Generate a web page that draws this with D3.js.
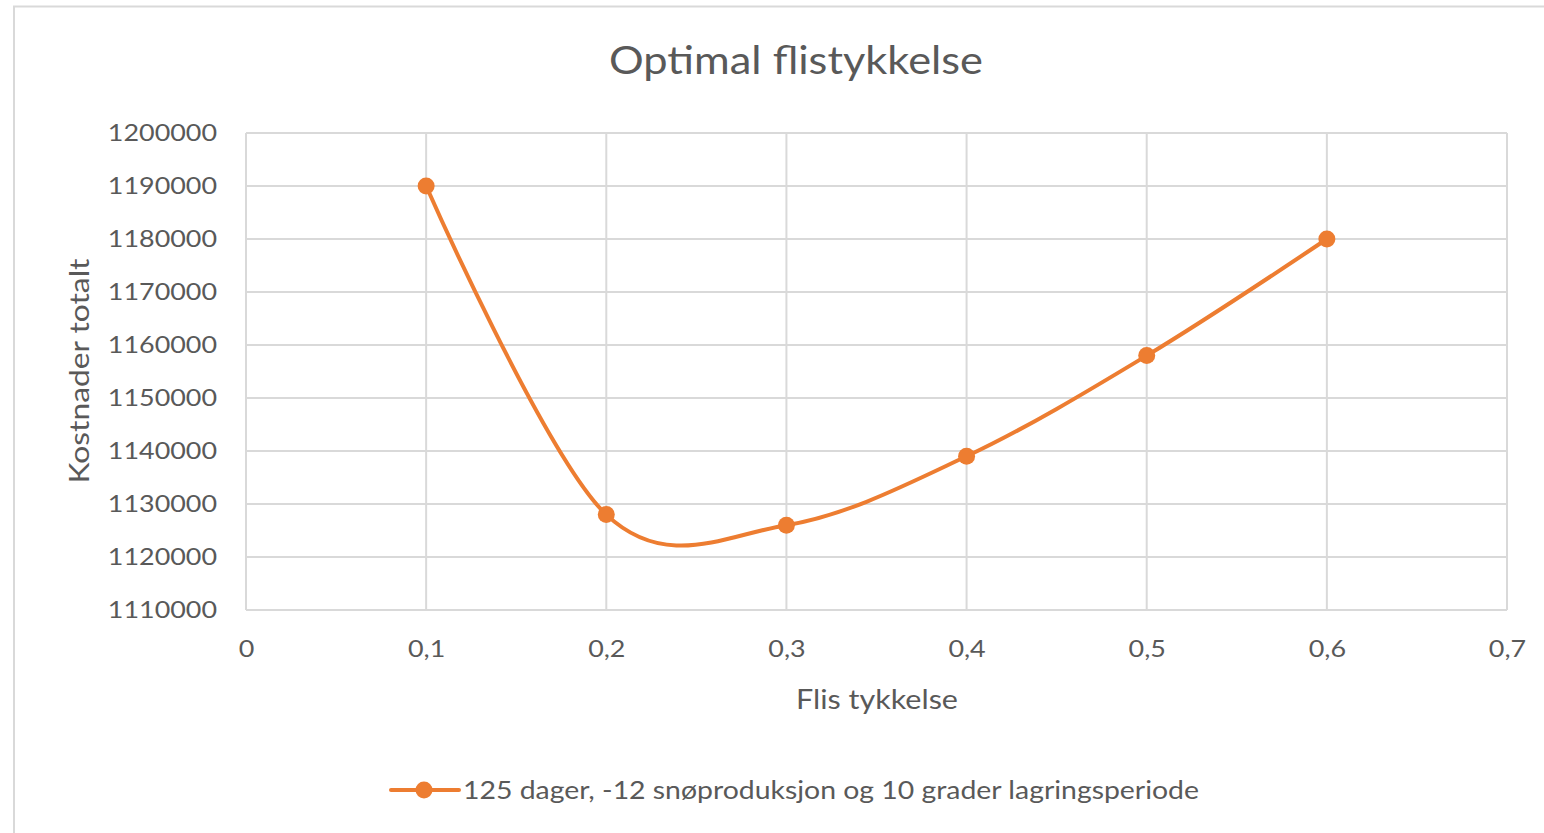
<!DOCTYPE html>
<html><head><meta charset="utf-8">
<script src="https://cdn.jsdelivr.net/npm/d3@7"></script>
<style>
html,body{margin:0;padding:0;background:#fff;}
text{font-family:Lato,"Open Sans",sans-serif;fill:#595959;}
</style></head>
<body>
<svg id="chart" width="1544" height="833"></svg>
<script>
const xValues = [0.1, 0.2, 0.3, 0.4, 0.5, 0.6];
const costValues = [1190000, 1128000, 1126000, 1139000, 1158000, 1180000];
const xTicks = [0, 0.1, 0.2, 0.3, 0.4, 0.5, 0.6, 0.7];
const yTicks = [1110000, 1120000, 1130000, 1140000, 1150000, 1160000, 1170000, 1180000, 1190000, 1200000];
const titleText = "Optimal flistykkelse";
const xTitle = "Flis tykkelse";
const yTitle = "Kostnader totalt";
const seriesName = "125 dager, -12 snøproduksjon og 10 grader lagringsperiode";

(function(){
const svg = d3.select("#chart");
const color = "#ED7D31";
const grid = "#d9d9d9";
const pL = 246, pR = 1507, pT = 133, pB = 610;
const stretch = 1.12;
function widen(sel){
  sel.each(function(){
    const w = this.getComputedTextLength();
    d3.select(this).attr("textLength", w*stretch).attr("lengthAdjust","spacingAndGlyphs");
  });
}

svg.append("path").attr("d","M14,833 V6.5 H1544").attr("fill","none").attr("stroke","#d9d9d9").attr("stroke-width",2);

const x = d3.scaleLinear().domain([0,0.7]).range([pL,pR]);
const y = d3.scaleLinear().domain([1110000,1200000]).range([pB,pT]);

svg.append("g").selectAll("line").data(yTicks).join("line")
  .attr("x1",pL).attr("x2",pR).attr("y1",d=>y(d)).attr("y2",d=>y(d))
  .attr("stroke",grid).attr("stroke-width",2);
svg.append("g").selectAll("line").data(xTicks).join("line")
  .attr("x1",d=>x(d)).attr("x2",d=>x(d)).attr("y1",pT).attr("y2",pB)
  .attr("stroke",grid).attr("stroke-width",2);

const fmtX = d => String(d).replace(".", ",");
const xAxis = svg.append("g").attr("transform",`translate(0,${pB})`)
  .call(d3.axisBottom(x).tickValues(xTicks).tickFormat(fmtX).tickSize(0).tickPadding(30));
xAxis.select(".domain").remove();
xAxis.selectAll("text").attr("font-size",24).style("font-family","Lato,'Open Sans',sans-serif").attr("fill","#595959").call(widen);

const yAxis = svg.append("g").attr("transform",`translate(${pL},0)`)
  .call(d3.axisLeft(y).tickValues(yTicks).tickFormat(d3.format("d")).tickSize(0).tickPadding(29));
yAxis.select(".domain").remove();
yAxis.selectAll("text").attr("font-size",24).style("font-family","Lato,'Open Sans',sans-serif").attr("fill","#595959").call(widen);

svg.append("text").attr("x",796).attr("y",74).attr("text-anchor","middle")
  .attr("font-size",38).attr("textLength",374).attr("lengthAdjust","spacingAndGlyphs").text(titleText);
svg.append("text").attr("x",877).attr("y",709).attr("text-anchor","middle")
  .attr("font-size",27).attr("textLength",162).attr("lengthAdjust","spacingAndGlyphs").text(xTitle);
svg.append("text").attr("transform","translate(89,371) rotate(-90)").attr("text-anchor","middle")
  .attr("font-size",27).attr("textLength",225).attr("lengthAdjust","spacingAndGlyphs").text(yTitle);

const data = xValues.map((v,i)=>({x:v,y:costValues[i]}));
const line = d3.line().x(d=>x(d.x)).y(d=>y(d.y)).curve(d3.curveCardinal.tension(0));
svg.append("path").datum(data).attr("d",line).attr("fill","none")
  .attr("stroke",color).attr("stroke-width",4).attr("stroke-linecap","round");
svg.append("g").selectAll("circle").data(data).join("circle")
  .attr("cx",d=>x(d.x)).attr("cy",d=>y(d.y)).attr("r",8.5).attr("fill",color);

const lg = svg.append("g");
lg.append("line").attr("x1",391).attr("x2",459).attr("y1",790).attr("y2",790)
  .attr("stroke",color).attr("stroke-width",4).attr("stroke-linecap","round");
lg.append("circle").attr("cx",424).attr("cy",790).attr("r",8.5).attr("fill",color);
lg.append("text").attr("x",463).attr("y",799).attr("font-size",25)
  .attr("textLength",736).attr("lengthAdjust","spacingAndGlyphs").text(seriesName);
})();
</script>
</body></html>
